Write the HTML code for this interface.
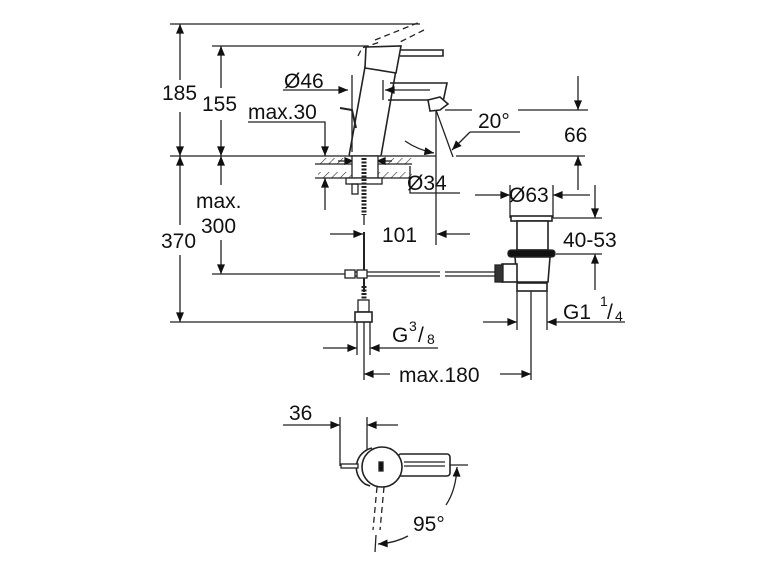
<!DOCTYPE html>
<html><head><meta charset="utf-8"><style>
html,body{margin:0;padding:0;background:#fff;}
svg{display:block;}
text{font-family:"Liberation Sans",sans-serif;font-size:21px;fill:#111;}
</style></head><body>
<svg width="770" height="578" viewBox="0 0 770 578" xmlns="http://www.w3.org/2000/svg">
<defs>
<marker id="a" viewBox="0 0 12 10" refX="12" refY="5" markerWidth="12" markerHeight="8" orient="auto-start-reverse" markerUnits="userSpaceOnUse"><path d="M0,0 L12,5 L0,10 z" fill="#111"/></marker>
<pattern id="h" width="6" height="6" patternUnits="userSpaceOnUse" patternTransform="rotate(45)"><line x1="0" y1="0" x2="0" y2="6" stroke="#333" stroke-width="1.2"/></pattern>
</defs>
<g stroke="#222" stroke-width="1.3" fill="none">
<line x1="170" y1="24" x2="420" y2="24"/>
<line x1="212" y1="46" x2="368" y2="46"/>
<line x1="170" y1="156" x2="348" y2="156"/>
<line x1="382" y1="156" x2="436" y2="156"/>
<line x1="456" y1="156" x2="585" y2="156"/>
<line x1="170" y1="322" x2="355" y2="322"/>
<line x1="212" y1="274" x2="350" y2="274"/>
<line x1="180" y1="24" x2="180" y2="80" marker-start="url(#a)"/>
<line x1="180" y1="112" x2="180" y2="156" marker-end="url(#a)"/>
<line x1="180" y1="156" x2="180" y2="225" marker-start="url(#a)"/>
<line x1="180" y1="255" x2="180" y2="322" marker-end="url(#a)"/>
<line x1="221" y1="46" x2="221" y2="88" marker-start="url(#a)"/>
<line x1="221" y1="120" x2="221" y2="156" marker-end="url(#a)"/>
<line x1="221" y1="156" x2="221" y2="185" marker-start="url(#a)"/>
<line x1="221" y1="240" x2="221" y2="274" marker-end="url(#a)"/>
<polyline points="248,122 325,122 325,156" marker-end="url(#a)"/>
<line x1="325" y1="210" x2="325" y2="178" marker-end="url(#a)"/>
<rect x="318" y="158" width="30" height="6" fill="url(#h)" stroke="none"/>
<rect x="382" y="158" width="30" height="6" fill="url(#h)" stroke="none"/>
<rect x="318" y="172" width="36" height="6" fill="url(#h)" stroke="none"/>
<rect x="376" y="172" width="36" height="6" fill="url(#h)" stroke="none"/>
<line x1="315" y1="164" x2="412" y2="164"/>
<line x1="315" y1="178" x2="412" y2="178"/>
<line x1="338" y1="161" x2="354" y2="161" marker-end="url(#a)"/>
<line x1="392" y1="161" x2="376" y2="161" marker-end="url(#a)"/>
<polygon points="349,156 365,67 396,70 381,156" fill="#fff" stroke-width="1.6"/>
<polygon points="366,47 401,46 396,73 365,68" fill="#fff" stroke-width="1.6"/>
<polyline points="401,50 443,50 443,56 400,56" stroke-width="1.6"/>
<polyline points="390,83 447,83 443,102 428,100 388,100" stroke-width="1.6"/>
<path d="M428,100 L440,97 L448,104 L440,110 L430,111 Z" fill="#fff" stroke-width="1.6"/>
<path d="M358,56 L362,48 L380,42 M375,40 L420,22 M424,30 L400,42" stroke-dasharray="6,4"/>
<polyline points="340,108 352,110 356,128" stroke-width="2"/>
<line x1="352" y1="75" x2="352" y2="152"/>
<rect x="352" y="156" width="26" height="22" fill="#fff"/>
<rect x="346" y="178" width="36" height="6" fill="#fff"/>
<rect x="352" y="184" width="6" height="10"/>
<line x1="364" y1="158" x2="364" y2="215" stroke-width="5" stroke-dasharray="2,1.5"/>
<line x1="364" y1="215" x2="364" y2="225"/>
<line x1="283" y1="90" x2="348" y2="90" marker-end="url(#a)"/>
<line x1="430" y1="90" x2="385" y2="90" marker-end="url(#a)"/>
<line x1="383" y1="80" x2="383" y2="100"/>
<polyline points="410,166 410,193 460,193"/>
<line x1="436" y1="110" x2="436" y2="245"/>
<line x1="436" y1="110" x2="453" y2="157"/>
<line x1="445" y1="110" x2="472" y2="110"/>
<line x1="518" y1="110" x2="588" y2="110"/>
<line x1="470" y1="132" x2="520" y2="132"/>
<line x1="470" y1="132" x2="452" y2="150" marker-end="url(#a)"/>
<path d="M405,141 Q418,150 434,153" marker-end="url(#a)"/>
<line x1="578" y1="76" x2="578" y2="110" marker-end="url(#a)"/>
<line x1="578" y1="190" x2="578" y2="156" marker-end="url(#a)"/>
<line x1="475" y1="195" x2="510" y2="195" marker-end="url(#a)"/>
<line x1="590" y1="195" x2="553" y2="195" marker-end="url(#a)"/>
<line x1="510" y1="185" x2="510" y2="218"/>
<line x1="553" y1="185" x2="553" y2="218"/>
<line x1="595" y1="185" x2="595" y2="218" marker-end="url(#a)"/>
<line x1="595" y1="290" x2="595" y2="254" marker-end="url(#a)"/>
<line x1="553" y1="218" x2="602" y2="218"/>
<line x1="556" y1="254" x2="602" y2="254"/>
<rect x="511" y="216" width="41" height="5" fill="#fff" stroke-width="1.6"/>
<rect x="517" y="221" width="31" height="29" fill="#fff" stroke-width="1.6"/>
<rect x="508" y="250" width="47" height="7" fill="#111" rx="3"/>
<path d="M515,257 L550,257 L548,282 L517,282 Z" fill="#fff" stroke-width="1.6"/>
<rect x="517" y="283" width="30" height="8" fill="#fff" stroke-width="1.6"/>
<rect x="502" y="264" width="15" height="18" fill="#fff" stroke-width="1.6"/>
<rect x="495" y="265" width="8" height="17" fill="#333"/>
<line x1="350" y1="272" x2="440" y2="272"/>
<line x1="350" y1="276" x2="440" y2="276"/>
<line x1="445" y1="272" x2="495" y2="272"/>
<line x1="445" y1="276" x2="495" y2="276"/>
<rect x="345" y="270" width="10" height="8" fill="#fff"/>
<rect x="357" y="270" width="10" height="8" fill="#fff"/>
<line x1="364" y1="232" x2="364" y2="270" stroke-width="2"/>
<line x1="364" y1="278" x2="364" y2="292" stroke-width="2"/>
<line x1="364" y1="286" x2="364" y2="308" stroke-width="5" stroke-dasharray="2,1.5"/>
<rect x="358" y="300" width="11" height="12" fill="#fff"/>
<rect x="355" y="312" width="17" height="10" fill="#fff" stroke-width="1.6"/>
<line x1="330" y1="234" x2="363" y2="234" marker-end="url(#a)"/>
<line x1="470" y1="234" x2="437" y2="234" marker-end="url(#a)"/>
<line x1="483" y1="322" x2="517" y2="322" marker-end="url(#a)"/>
<line x1="625" y1="322" x2="547" y2="322" marker-end="url(#a)"/>
<line x1="517" y1="291" x2="517" y2="330"/>
<line x1="547" y1="291" x2="547" y2="330"/>
<line x1="323" y1="348" x2="357" y2="348" marker-end="url(#a)"/>
<line x1="438" y1="348" x2="370" y2="348" marker-end="url(#a)"/>
<line x1="357" y1="322" x2="357" y2="355"/>
<line x1="370" y1="322" x2="370" y2="355"/>
<line x1="390" y1="374" x2="364" y2="374" marker-end="url(#a)"/>
<line x1="500" y1="374" x2="531" y2="374" marker-end="url(#a)"/>
<line x1="364" y1="322" x2="364" y2="380"/>
<line x1="531" y1="291" x2="531" y2="380"/>
<line x1="283" y1="425" x2="340" y2="425" marker-end="url(#a)"/>
<line x1="398" y1="425" x2="367" y2="425" marker-end="url(#a)"/>
<line x1="340" y1="417" x2="340" y2="466"/>
<line x1="367" y1="417" x2="367" y2="450"/>
<rect x="398" y="454" width="52" height="22" rx="3" fill="#fff" stroke-width="1.6"/>
<line x1="404" y1="462" x2="445" y2="462"/>
<line x1="404" y1="466" x2="445" y2="466"/>
<path d="M372,448 A20,20 0 0,0 365,484 L370,486" stroke-width="1.6" fill="#fff"/>
<circle cx="382" cy="467" r="20" fill="#fff" stroke-width="1.6"/>
<rect x="341" y="464" width="17" height="4" fill="#fff"/>
<rect x="379" y="462" width="4" height="9" fill="#111"/>
<line x1="377" y1="487" x2="373" y2="530" stroke-dasharray="6,4"/>
<line x1="384" y1="487" x2="380" y2="530" stroke-dasharray="6,4"/>
<line x1="376" y1="535" x2="375" y2="552"/>
<line x1="450" y1="465" x2="468" y2="465"/>
<path d="M446,505 Q456,490 457,467" marker-end="url(#a)"/>
<path d="M408,536 Q395,543 378,544" marker-end="url(#a)"/>
</g>
<g>
<text x="162" y="100">185</text>
<text x="202" y="111">155</text>
<text x="248" y="119">max.30</text>
<text x="284" y="88">Ø46</text>
<text x="196" y="208">max.</text>
<text x="201" y="233">300</text>
<text x="161" y="248">370</text>
<text x="407" y="190">Ø34</text>
<text x="478" y="128">20°</text>
<text x="564" y="142">66</text>
<text x="509" y="202">Ø63</text>
<text x="563" y="247">40-53</text>
<text x="382" y="242">101</text>
<text x="563" y="319">G1</text><text x="600" y="306" style="font-size:14px">1</text><text x="607" y="319">/</text><text x="615" y="321" style="font-size:14px">4</text>
<text x="392" y="342">G</text><text x="409" y="331" style="font-size:14px">3</text><text x="418" y="342">/</text><text x="427" y="344" style="font-size:14px">8</text>
<text x="399" y="382">max.180</text>
<text x="289" y="420">36</text>
<text x="413" y="531">95°</text>
</g>
</svg>
</body></html>
